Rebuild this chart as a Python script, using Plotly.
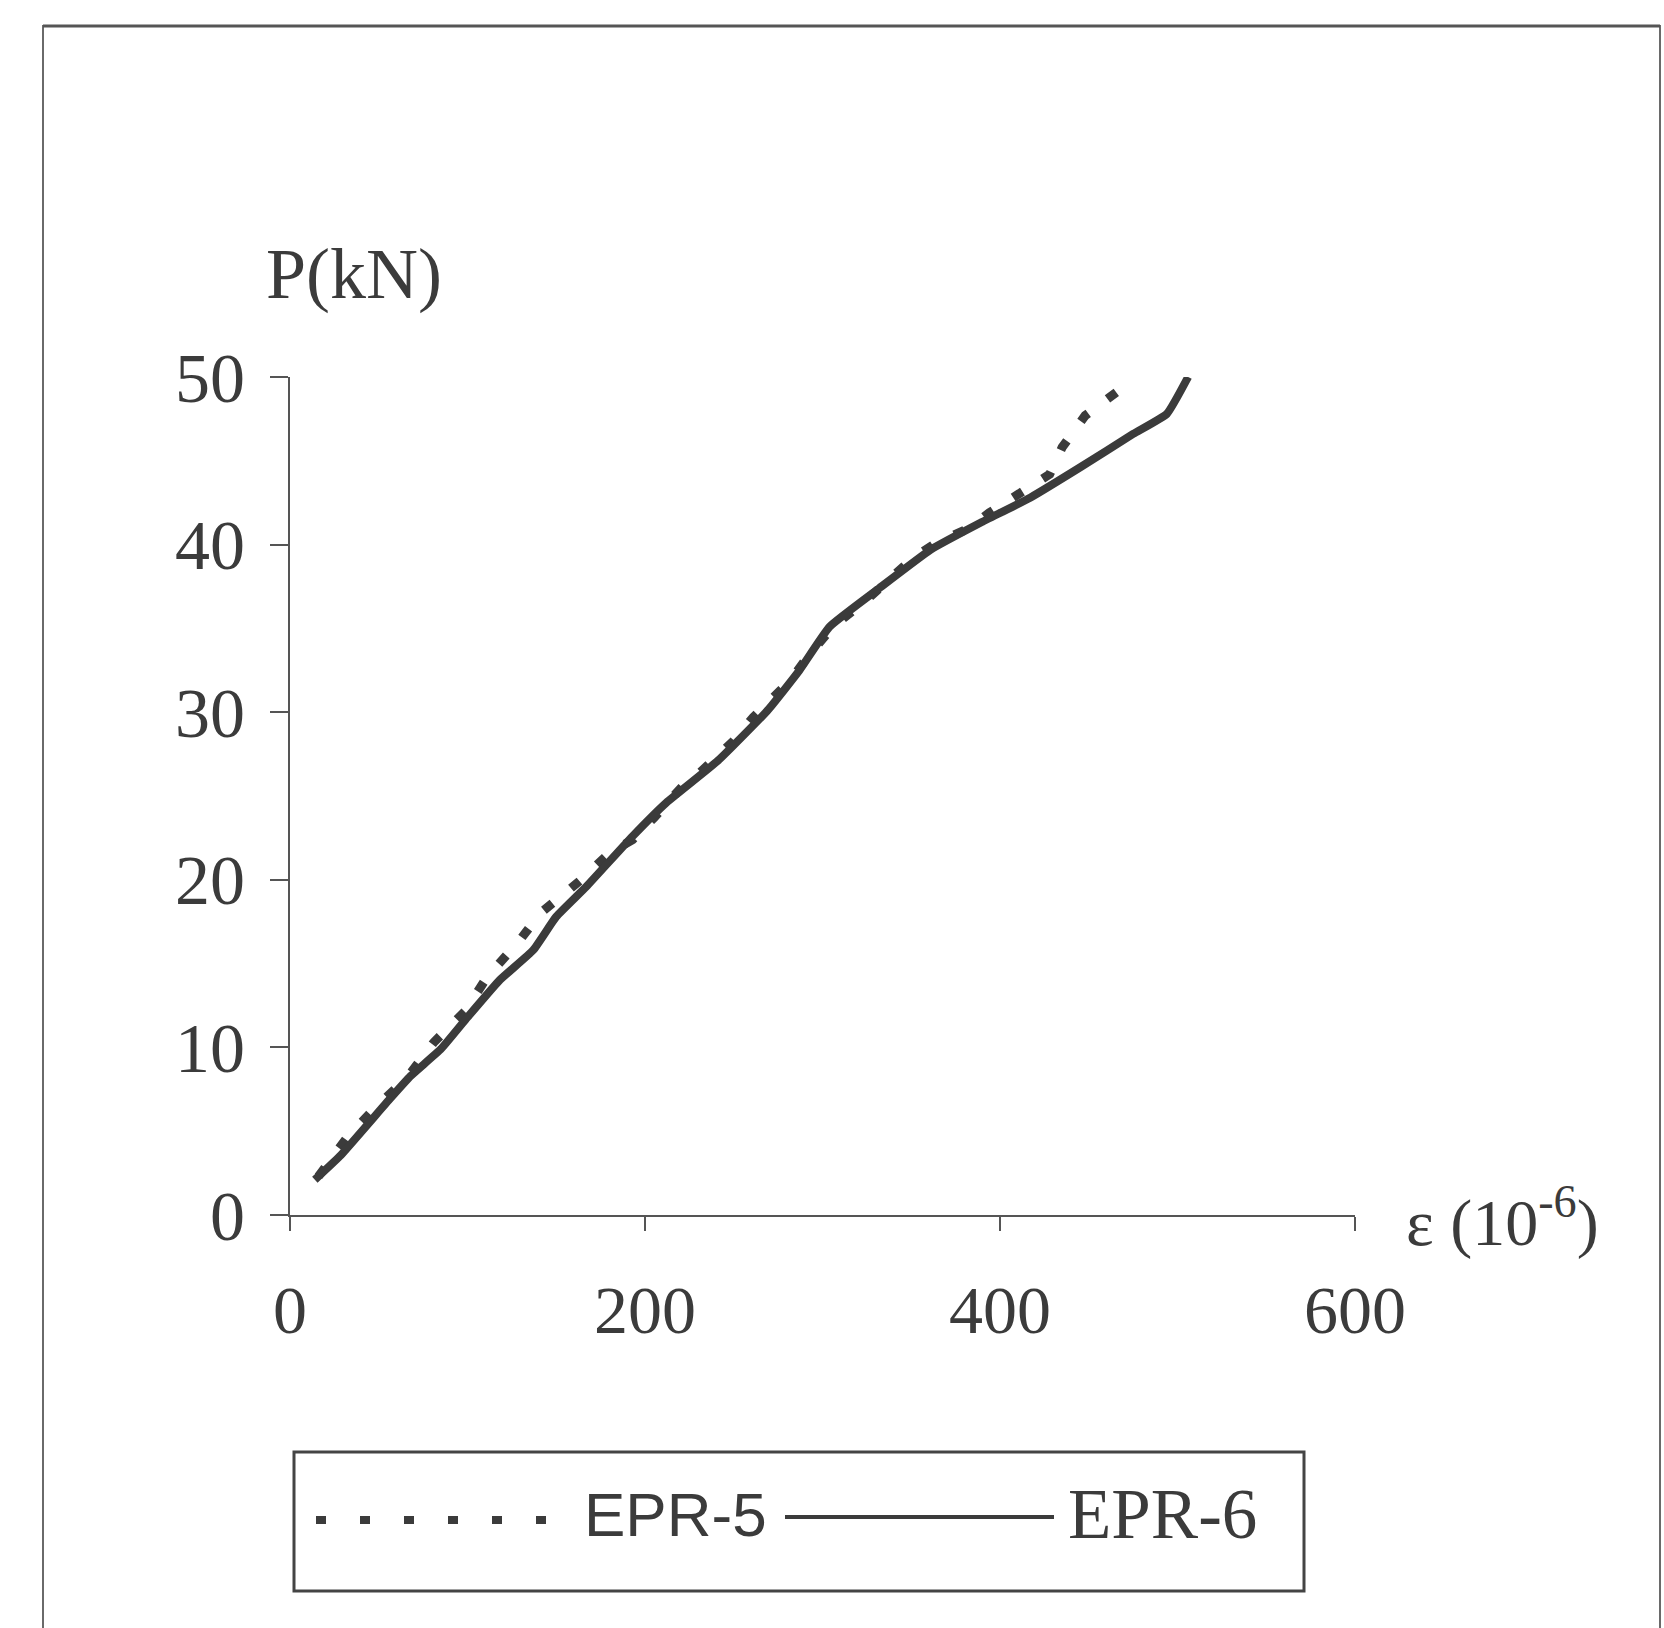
import plotly.graph_objects as go

# ---- data ----
epr5_strain = [16, 32, 48, 66, 81, 95, 99, 111, 128, 141, 159, 164, 180, 193, 205,
               223, 231, 250, 261, 282, 293, 306, 328, 351, 364, 383, 394, 411,
               428, 435, 448, 467]
epr5_load = [2.3, 4.6, 6.4, 8.2, 10.3, 11.7, 12.2, 14.2, 16.2, 18.0, 19.6, 20.0,
             21.6, 22.4, 23.7, 25.8, 26.4, 28.3, 29.7, 31.9, 33.5, 35.1, 37.0,
             39.2, 40.1, 41.0, 41.9, 43.1, 44.2, 45.8, 47.7, 49.2]

epr6_strain = [14, 28, 56, 68, 85, 100, 118, 137, 150, 167, 193, 212, 241, 269,
               287, 304, 332, 361, 389, 417, 445, 475, 494, 506]
epr6_load = [2.1, 3.5, 6.9, 8.3, 9.9, 11.8, 14.0, 15.8, 17.8, 19.6, 22.6, 24.6,
             27.1, 30.1, 32.5, 35.1, 37.4, 39.7, 41.3, 42.8, 44.6, 46.6, 47.8, 50.0]

x_ticks = [0, 200, 400, 600]
y_ticks = [0, 10, 20, 30, 40, 50]
series_names = ["EPR-5", "EPR-6"]

# ---- layout geometry (pixels) ----
W, H = 1664, 1628
L, R, T, B = 290, 1355, 377, 1215  # plot area edges
PW, PH = R - L, B - T


def px(xp):
    return (xp - L) / PW


def py(yp):
    return (B - yp) / PH


INK = "#3b3b3b"
AX = "#555555"

fig = go.Figure()
fig.add_trace(go.Scatter(
    x=epr5_strain, y=epr5_load, mode="lines", name=series_names[0],
    line=dict(color=INK, width=9, dash="11px,24px"), showlegend=False))
fig.add_trace(go.Scatter(
    x=epr6_strain, y=epr6_load, mode="lines", name=series_names[1],
    line=dict(color=INK, width=8, shape="spline", smoothing=0.4), showlegend=False))

shapes = []
# outer frame
shapes.append(dict(type="rect", xref="paper", yref="paper",
                   x0=px(43), x1=px(1660), y0=py(1660), y1=py(26),
                   line=dict(color="#6a6a6a", width=2)))
shapes.append(dict(type="line", xref="paper", yref="paper",
                   x0=px(43), x1=px(1660), y0=py(26), y1=py(26),
                   line=dict(color="#555555", width=3)))
# legend box
shapes.append(dict(type="rect", xref="paper", yref="paper",
                   x0=px(294), x1=px(1304), y0=py(1591), y1=py(1452),
                   line=dict(color="#444444", width=3)))
# legend samples
shapes.append(dict(type="line", xref="paper", yref="paper",
                   x0=px(316), x1=px(552), y0=py(1520), y1=py(1520),
                   line=dict(color=INK, width=8, dash="10px,34px")))
shapes.append(dict(type="line", xref="paper", yref="paper",
                   x0=px(785), x1=px(1054), y0=py(1517), y1=py(1517),
                   line=dict(color=INK, width=4)))

annotations = [
    dict(text="P(kN)", xref="paper", yref="paper", x=px(264), y=py(274),
         xanchor="left", yanchor="middle", showarrow=False,
         font=dict(family="Liberation Serif", size=72, color=INK)),
    dict(text="ε (10<sup>-6</sup>)", xref="paper", yref="paper", x=px(1404), y=py(1218),
         xanchor="left", yanchor="middle", showarrow=False,
         font=dict(family="Liberation Serif", size=66, color=INK)),
    dict(text=series_names[0], xref="paper", yref="paper", x=px(582), y=py(1514),
         xanchor="left", yanchor="middle", showarrow=False,
         font=dict(family="Liberation Sans", size=62, color=INK)),
    dict(text=series_names[1], xref="paper", yref="paper", x=px(1066), y=py(1514),
         xanchor="left", yanchor="middle", showarrow=False,
         font=dict(family="Liberation Serif", size=71, color=INK)),
]

fig.update_layout(
    width=W, height=H,
    margin=dict(l=L, r=W - R, t=T, b=H - B, pad=0),
    paper_bgcolor="white", plot_bgcolor="white",
    shapes=shapes, annotations=annotations,
    showlegend=False,
    xaxis=dict(range=[0, 600], tickvals=x_ticks, ticktext=[str(v) for v in x_ticks],
               showgrid=False, zeroline=False, showline=True, linecolor=AX, linewidth=2,
               ticks="outside", ticklen=14, tickwidth=2, tickcolor=AX,
               ticklabelstandoff=20,
               tickfont=dict(family="Liberation Serif", size=68, color=INK)),
    yaxis=dict(range=[0, 50], tickvals=y_ticks, ticktext=[str(v) for v in y_ticks],
               showgrid=False, zeroline=False, showline=True, linecolor=AX, linewidth=2,
               ticks="outside", ticklen=18, tickwidth=2, tickcolor=AX,
               ticklabelstandoff=11,
               tickfont=dict(family="Liberation Serif", size=70, color=INK)),
)

fig.write_html("out.html")
